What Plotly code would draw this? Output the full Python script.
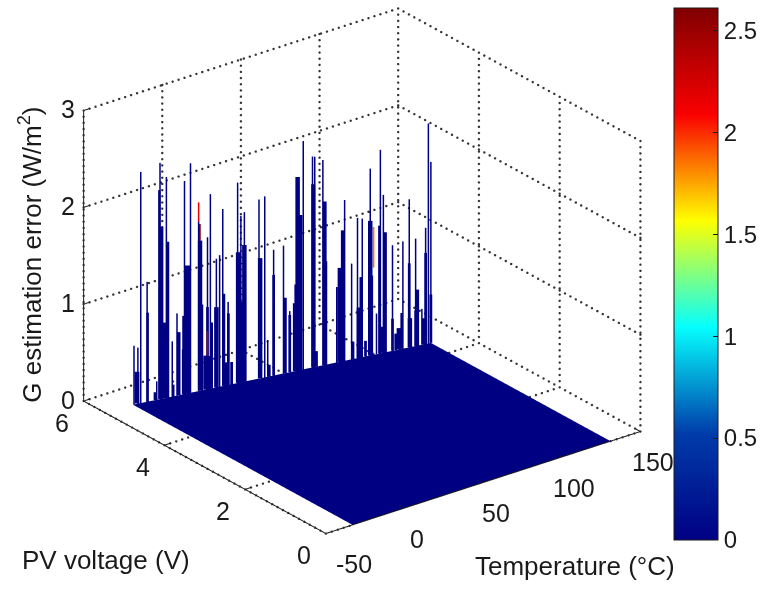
import numpy as np
import plotly.graph_objects as go

# spike tips: temperature, PV voltage, error
thin_T = [-32.3,-30.4,-28.8,-25.3,-19.9,-18.1,-14.6,-11.3,-8.8,-7.5,-4.6,-1.3,3.1,8.0,9.6,12.9,14.7,16.4,19.3,24.6,26.4,28.4,36.4,39.5,41.2,44.4,49.9,53.4,60.7,65.8,67.2,71.6,79.1,83.6,87.3,90.5,93.3,97.6,101.1,103.3,104.9,110.0,115.5,119.1,122.6,126.1,128.2,129.7,131.0]
thin_V = [5.44,5.42,5.41,5.39,5.36,5.35,5.33,5.31,5.29,5.29,5.27,5.25,5.22,5.19,5.18,5.16,5.15,5.14,5.12,5.09,5.08,5.07,5.02,5.00,4.99,4.97,4.94,4.92,4.87,4.84,4.84,4.81,4.76,4.74,4.71,4.69,4.68,4.65,4.63,4.62,4.61,4.58,4.54,4.52,4.50,4.48,4.47,4.46,4.45]
thin_E = [.605,.58,2.39,1.24,.19,2.44,2.28,.57,.85,.65,2.20,2.37,1.95,1.57,2.01,1.33,1.36,1.83,.86,2.07,1.72,1.75,1.85,1.87,.38,1.30,1.32,.63,2.36,2.18,2.17,2.12,.78,1.66,.99,1.45,1.43,1.93,.42,2.10,1.63,1.09,1.11,1.53,1.11,.37,1.20,2.27,1.87]

mid_T = [-25.0,-20.8,-18.4,-17.1,-13.9,-10.8,-7.5,-5.1,8.0,10.4,17.1,19.5,21.3,42.1,44.4,50.8,53.4,59.4,68.1,88.2,92.4,95.1,98.6,102.7,106.0,110.0,111.8,115.1,119.1,122.6,123.7,128.2,131.0]
mid_V = [5.39,5.37,5.35,5.34,5.32,5.31,5.29,5.27,5.19,5.18,5.14,5.12,5.11,4.99,4.97,4.93,4.92,4.88,4.83,4.71,4.68,4.67,4.65,4.62,4.60,4.58,4.57,4.55,4.52,4.50,4.49,4.47,4.45]
mid_E = [.92,.08,2.16,1.78,1.61,.12,.65,.81,.85,.68,.95,.74,.23,.12,1.04,.78,.59,1.60,.16,.18,.83,.16,.82,1.32,1.24,.33,.17,.37,.87,.37,.58,.94,.50]

wide_T = [-30.6,-15.7,-4.8,-2.9,4.0,4.4,7.1,8.9,12.9,18.0,24.9,28.4,27.1,37.1,56.3,57.6,57.2,66.3,72.3,72.7,82.7,80.9,81.8,91.3,97.6,104.6,113.5,119.5,127.3]
wide_V = [5.43,5.34,5.27,5.26,5.22,5.21,5.20,5.19,5.16,5.13,5.09,5.07,5.08,5.02,4.90,4.89,4.90,4.84,4.80,4.80,4.74,4.75,4.75,4.69,4.65,4.61,4.56,4.52,4.47]
wide_E = [.33,.78,.46,1.32,1.55,.89,.35,.34,.83,.24,1.35,1.41,.83,1.24,.70,2.00,.89,1.89,1.69,1.07,1.35,.97,.28,.52,1.39,.27,.22,.30,.27]

# hot segments near the tips
hot_T = [3.1, 4.0, 7.9, 99.5]
hot_V = [5.22, 5.22, 5.19, 4.64]
hot_lo = [1.75, 1.55, .35, .90]
hot_hi = [1.95, 1.72, .60, 1.32]
hot_C = [2.15, 2.55, 2.45, 1.85]

# surface outline
base_T = [-33, 131]
base_V = [[0, 0], [5.44, 4.45]]
base_E = [[0, 0], [0, 0]]

T_ticks = [-50, 0, 50, 100, 150]
V_ticks = [0, 2, 4, 6]
E_ticks = [0, 1, 2, 3]
C_ticks = [0, 0.5, 1, 1.5, 2, 2.5]
C_max = 2.61

INK = "#1a1a1a"
FONT = "Liberation Sans"
NAVY = "rgb(0,0,131)"
TICK_PX = 25


def stems(T, V, lo, hi):
    x, y, z = [], [], []
    for t, v, a, b in zip(T, V, lo, hi):
        x += [t, t, None]
        y += [v, v, None]
        z += [a, b, None]
    return x, y, z


def under_surface(t, v, e):
    if e != 0 or t < base_T[0] or t > base_T[1]:
        return False
    f = (t - base_T[0]) / (base_T[1] - base_T[0])
    return v <= base_V[1][0] + f * (base_V[1][1] - base_V[1][0])


def grid_dots():
    t0, t1 = T_ticks[0], T_ticks[-1]
    v0, v1 = V_ticks[0], V_ticks[-1]
    e0, e1 = E_ticks[0], E_ticks[-1]
    segs = []
    for t in T_ticks:
        segs += [((t, v0, e0), (t, v1, e0), 46), ((t, v1, e0), (t, v1, e1), 48)]
    for v in V_ticks:
        segs += [((t0, v, e0), (t1, v, e0), 54), ((t1, v, e0), (t1, v, e1), 48)]
    for e in E_ticks:
        segs += [((t0, v1, e), (t1, v1, e), 54), ((t1, v0, e), (t1, v1, e), 46)]
    x, y, z = [], [], []
    for p, q, n in segs:
        for s in np.linspace(0, 1, n):
            a, b, c = (p[i] + s * (q[i] - p[i]) for i in range(3))
            if not under_surface(a, b, c):
                x.append(a); y.append(b); z.append(c)
    return x, y, z


def axis_frame():
    t0, t1 = T_ticks[0], T_ticks[-1]
    v0, v1 = V_ticks[0], V_ticks[-1]
    e0, e1 = E_ticks[0], E_ticks[-1]
    dt = (t1 - t0) * 0.02
    dv = (v1 - v0) * 0.02
    segs = [((t0, v0, e0), (t1, v0, e0)), ((t0, v0, e0), (t0, v1, e0)), ((t0, v1, e0), (t0, v1, e1))]
    segs += [((t, v0, e0), (t, v0 + dv, e0)) for t in T_ticks]
    segs += [((t0, v, e0), (t0 + dt, v, e0)) for v in V_ticks]
    segs += [((t0, v1, e), (t0 + dt, v1, e)) for e in E_ticks]
    x, y, z = [], [], []
    for p, q in segs:
        x += [p[0], q[0], None]
        y += [p[1], q[1], None]
        z += [p[2], q[2], None]
    return x, y, z


fig = go.Figure()
gx, gy, gz = grid_dots()
fig.add_trace(go.Scatter3d(x=gx, y=gy, z=gz, mode="markers",
                           marker=dict(color="#333", size=1.4, line=dict(width=0)),
                           hoverinfo="skip", showlegend=False))
ax_x, ax_y, ax_z = axis_frame()
fig.add_trace(go.Scatter3d(x=ax_x, y=ax_y, z=ax_z, mode="lines",
                           line=dict(color=INK, width=2),
                           hoverinfo="skip", showlegend=False))
fig.add_trace(go.Surface(
    x=[base_T, base_T], y=base_V, z=base_E,
    surfacecolor=base_E, colorscale="Jet", cmin=0, cmax=C_max,
    lighting=dict(ambient=1, diffuse=0, specular=0, fresnel=0),
    showscale=True,
    colorbar=dict(thickness=44, thicknessmode="pixels", len=532, lenmode="pixels",
                  x=681/763, xanchor="left", xref="paper",
                  y=1-8/589, yanchor="top", yref="paper",
                  tickvals=C_ticks, ticktext=["0", "0.5", "1", "1.5", "2", "2.5"],
                  ticks="inside", ticklen=5, tickcolor=INK, ypad=0, xpad=0,
                  outlinecolor=INK, outlinewidth=1,
                  tickfont=dict(family=FONT, size=24, color=INK)),
))
for T_, V_, E_, w in [(thin_T, thin_V, thin_E, 3), (mid_T, mid_V, mid_E, 5.5), (wide_T, wide_V, wide_E, 9)]:
    sx, sy, sz = stems(T_, V_, [0]*len(T_), E_)
    fig.add_trace(go.Scatter3d(x=sx, y=sy, z=sz, mode="lines",
                               line=dict(color=NAVY, width=w),
                               hoverinfo="skip", showlegend=False))
for t, v, a, b, c in zip(hot_T, hot_V, hot_lo, hot_hi, hot_C):
    fig.add_trace(go.Scatter3d(x=[t, t], y=[v, v], z=[a, b], mode="lines",
                               line=dict(color=[c, c], cmin=0, cmax=C_max, colorscale="Jet", width=3),
                               hoverinfo="skip", showlegend=False))

axis = dict(showgrid=False, zeroline=False, showline=False,
            showbackground=False, showspikes=False, ticks="",
            showticklabels=False, title=dict(text=""))


def tick_note(x, y, z, text, dx, dy):
    return dict(x=x, y=y, z=z, text=text, showarrow=False, xshift=dx, yshift=-dy,
                font=dict(family=FONT, size=TICK_PX, color=INK))


notes = []
for t in T_ticks:
    notes.append(tick_note(t, V_ticks[0], E_ticks[0], str(t), 28 if t < 0 else 12, 31))
for v in V_ticks:
    notes.append(tick_note(T_ticks[0], v, E_ticks[0], str(v), -22, 22))
for e in E_ticks:
    notes.append(tick_note(T_ticks[0], V_ticks[-1], e, str(e), -16, -1))


def label(text, px, py, **kw):
    return dict(text=text, x=px/763, y=1-py/589, xref="paper", yref="paper", showarrow=False,
                xanchor="center", yanchor="middle", font=dict(family=FONT, size=26, color=INK), **kw)


fig.update_layout(
    width=763, height=589, margin=dict(l=0, r=0, t=0, b=0),
    paper_bgcolor="white", showlegend=False,
    scene=dict(
        domain=dict(x=[0.003, 0.957], y=[0.08, 1.0]),
        aspectmode="manual", aspectratio=dict(x=1.465, y=1.465, z=1.182),
        camera=dict(projection=dict(type="orthographic"),
                    eye=dict(x=-0.553*1.6, y=-0.718*1.6, z=0.421*1.6),
                    center=dict(x=0, y=0, z=0), up=dict(x=0, y=0, z=1)),
        xaxis=dict(axis, range=[T_ticks[0], T_ticks[-1]], tickvals=T_ticks),
        yaxis=dict(axis, range=[V_ticks[0], V_ticks[-1]], tickvals=V_ticks),
        zaxis=dict(axis, range=[E_ticks[0], E_ticks[-1]], tickvals=E_ticks),
        annotations=notes,
    ),
    annotations=[
        label("PV voltage (V)", 107, 560),
        label("Temperature (°C)", 581, 566),
        label("G estimation error (W/m<sup>2</sup>)", 30, 255, textangle=-90),
    ],
)
fig.write_html("out.html", default_width="763px", default_height="589px",
               config={"displayModeBar": False},
               post_script="document.body.style.margin='0';document.body.style.padding='0';")
